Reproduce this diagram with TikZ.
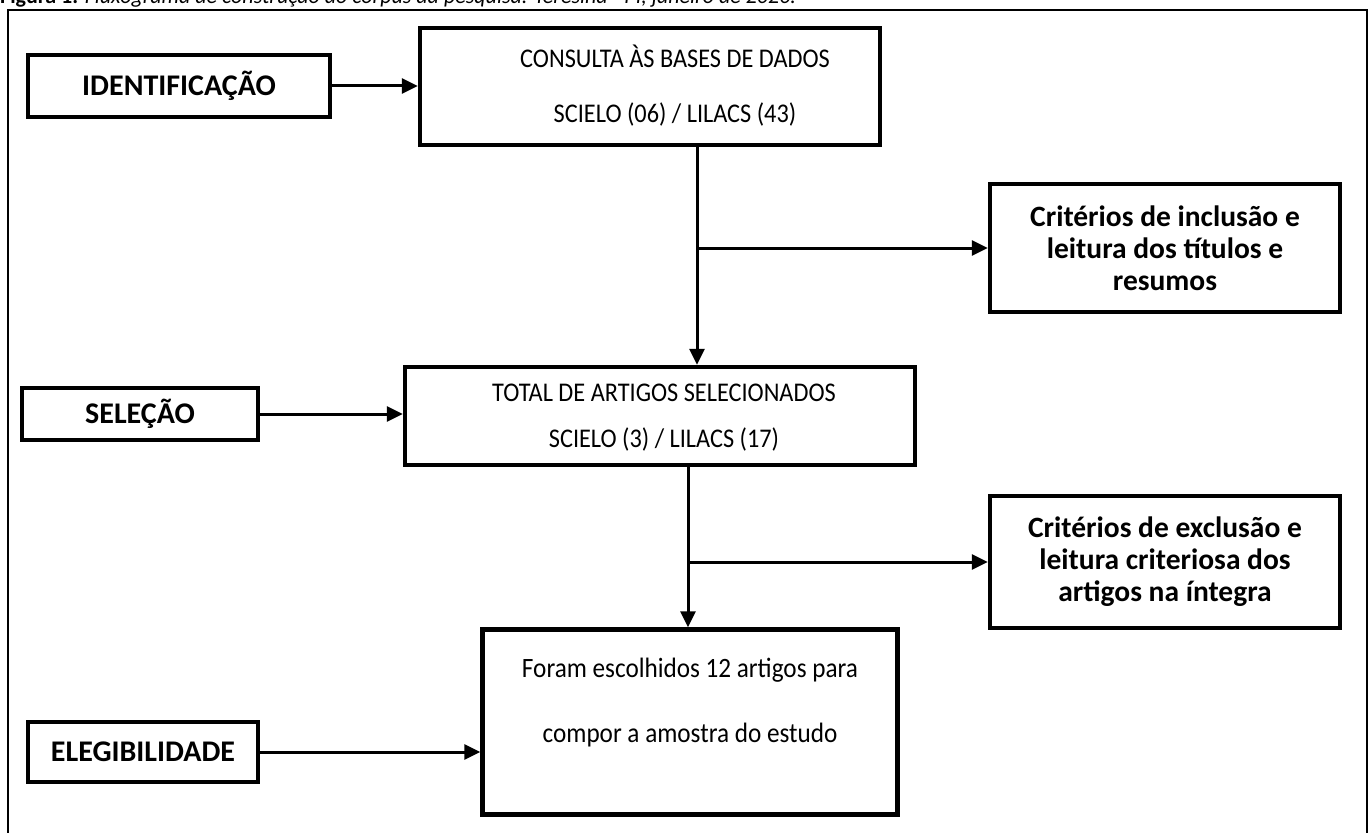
\documentclass[tikz,border=0pt]{standalone}
\usepackage{fontspec}
\setmainfont{Carlito}
\newfontfamily\tallfont[FakeStretch=0.9]{Carlito}
\usetikzlibrary{arrows.meta}
\begin{document}
\begin{tikzpicture}[x=1pt,y=-1pt,
  boxbase/.style={draw, rectangle, line width=4.5pt, inner sep=0pt, align=center},
  labelbox/.style={boxbase, font=\fontsize{30}{34}\selectfont\bfseries},
  critbox/.style={boxbase, font=\fontsize{29.5}{32}\selectfont\bfseries},
  maintext/.style={inner sep=0pt, align=center},
  conn/.style={line width=3pt},
  arr/.style={conn, -{Triangle[length=16pt,width=15pt]}}
]
\useasboundingbox (0,0) rectangle (1372,832);
% caption (cut off at the top)
\node[anchor=base west, inner sep=0pt, font=\fontsize{22}{26}\selectfont] (cap) at (0,4)
  {\textbf{Figura 1.} \textit{Fluxograma de construção do corpus da pesquisa. Teresina - PI, janeiro de 2020.}};
% frame
\draw[line width=2.2pt] (8,10) rectangle (1367,860);

% boxes
\node[labelbox, minimum width=302pt, minimum height=62pt] (ident) at (179,86) {IDENTIFICAÇÃO};
\node[boxbase, minimum width=460pt, minimum height=117pt] (cons) at (650,86.5) {};
\node[maintext, font=\tallfont\fontsize{27}{55}\selectfont] (constxt) at (675,86)
  {CONSULTA ÀS BASES DE DADOS\\SCIELO (06) / LILACS (43)};
\node[critbox, minimum width=350pt, minimum height=128pt] (incl) at (1165,248)
  {Critérios de inclusão e\\leitura dos títulos e\\resumos};
\node[labelbox, minimum width=236pt, minimum height=52pt] (sel) at (140,414) {SELEÇÃO};
\node[boxbase, minimum width=510pt, minimum height=98pt] (tot) at (660,416) {};
\node[maintext, font=\tallfont\fontsize{27}{46}\selectfont] (tottxt) at (664,418)
  {TOTAL DE ARTIGOS SELECIONADOS\\SCIELO (3) / LILACS (17)};
\node[critbox, minimum width=350pt, minimum height=132pt] (excl) at (1165,562)
  {Critérios de exclusão e\\leitura criteriosa dos\\artigos na íntegra};
\node[labelbox, minimum width=230pt, minimum height=60pt] (eleg) at (143,752) {ELEGIBILIDADE};
\node[boxbase, minimum width=415pt, minimum height=185pt] (foram) at (690,722) {};
\node[maintext, font=\tallfont\fontsize{28}{65}\selectfont] (foramtxt) at (690,703)
  {Foram escolhidos 12 artigos para\\compor a amostra do estudo};

% junction coordinates
\coordinate (v1) at (697,0);
\coordinate (j1) at (697,248);
\coordinate (v2) at (688,0);
\coordinate (j2) at (688,562);

% connectors
\draw[arr] (ident.east) -- (cons.west |- ident.east);
\draw[arr] (cons.south -| v1) -- (tot.north -| v1);
\draw[arr] (j1) -- (incl.west);
\draw[arr] (sel.east) -- (tot.west |- sel.east);
\draw[arr] (tot.south -| v2) -- (foram.north -| v2);
\draw[arr] (j2) -- (excl.west);
\draw[arr] (eleg.east) -- (foram.west |- eleg.east);
\end{tikzpicture}
\end{document}
